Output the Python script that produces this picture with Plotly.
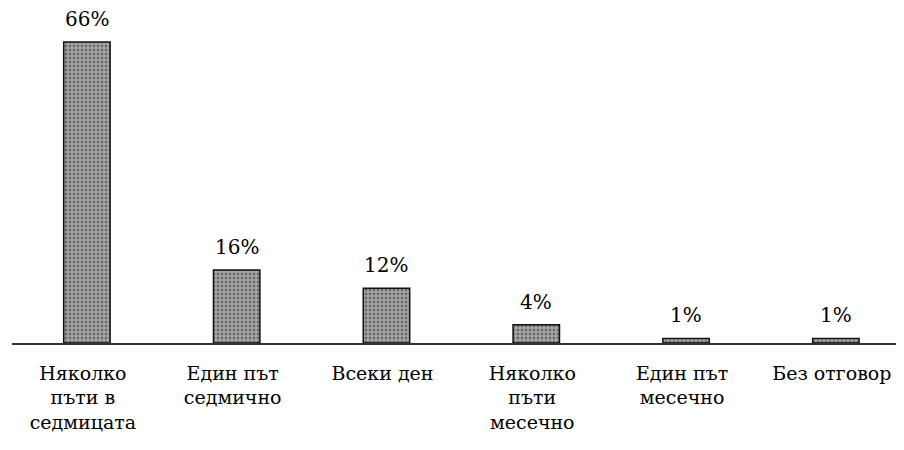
import plotly.graph_objects as go

categories = [
    "Няколко<br>пъти в<br>седмицата",
    "Един път<br>седмично",
    "Всеки ден",
    "Няколко<br>пъти<br>месечно",
    "Един път<br>месечно",
    "Без отговор",
]
values = [66, 16, 12, 4, 1, 1]
value_labels = ["66%", "16%", "12%", "4%", "1%", "1%"]

FONT = "DejaVu Serif"

fig = go.Figure()
fig.add_trace(go.Bar(
    x=list(range(len(categories))),
    y=values,
    width=0.31,
    marker=dict(
        color="#8a8a8a",
        line=dict(color="#111111", width=1.5),
        pattern=dict(shape=".", fgcolor="#2a2a2a", bgcolor="#a8a8a8", size=4, solidity=0.4),
    ),
    hoverinfo="skip",
))

for i, (v, t) in enumerate(zip(values, value_labels)):
    fig.add_annotation(
        x=i, y=v, text=t, showarrow=False,
        yanchor="bottom", yshift=9,
        font=dict(family=FONT, size=20, color="black"),
    )

fig.update_layout(
    width=896, height=442,
    margin=dict(l=4, r=0, t=0, b=107),
    paper_bgcolor="white", plot_bgcolor="white",
    showlegend=False,
    font=dict(family=FONT, size=19, color="black"),
    xaxis=dict(
        tickmode="array",
        tickvals=list(range(len(categories))),
        ticktext=categories,
        range=[-0.5, 5.455],
        showgrid=False, zeroline=False,
        showline=True, linecolor="#333333", linewidth=1.5,
        ticks="", ticklabelstandoff=12, ticklabelshift=-4,
        tickfont=dict(family=FONT, size=19, color="black"),
    ),
    yaxis=dict(
        range=[0, 73.46],
        visible=False, showgrid=False, zeroline=False,
    ),
)

fig.write_html("out.html")
